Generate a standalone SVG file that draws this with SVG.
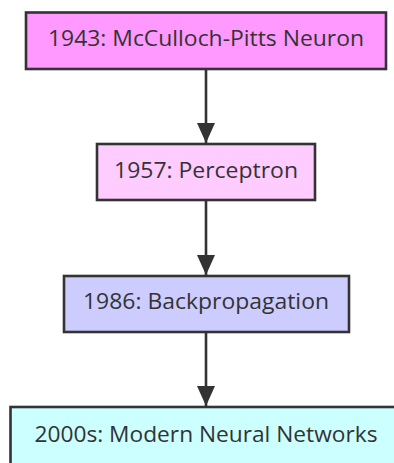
<svg xmlns="http://www.w3.org/2000/svg" width="394" height="463" viewBox="0 0 394 463">
<style>
.node rect{stroke:#333;stroke-width:2.6}
.node text{font-family:"Open Sans","Noto Sans","Liberation Sans",sans-serif;font-size:22px;fill:#333;text-anchor:middle}
.edge{stroke:#333;stroke-width:2.6;fill:none}
</style>
<defs>
<marker id="arr" viewBox="0 0 20 18" refX="20" refY="9" markerWidth="20" markerHeight="18" markerUnits="userSpaceOnUse" orient="auto">
<path d="M0,0 L20,9 L0,18 Z" fill="#333"/>
</marker>
</defs>
<rect width="394" height="463" fill="#fff"/>
<g id="connectors">
<line class="edge" x1="206" y1="69" x2="206" y2="143" marker-end="url(#arr)"/>
<line class="edge" x1="206" y1="200" x2="206" y2="275" marker-end="url(#arr)"/>
<line class="edge" x1="206" y1="332" x2="206" y2="406" marker-end="url(#arr)"/>
</g>
<g id="n1" class="node">
<rect x="26" y="12.5" width="360" height="56.5" fill="#f9f"/>
<text x="206" y="46" textLength="316" lengthAdjust="spacingAndGlyphs">1943: McCulloch-Pitts Neuron</text>
</g>
<g id="n2" class="node">
<rect x="97" y="144" width="218" height="56" fill="#fcf"/>
<text x="206" y="178" textLength="184" lengthAdjust="spacingAndGlyphs">1957: Perceptron</text>
</g>
<g id="n3" class="node">
<rect x="64" y="276" width="285" height="56" fill="#ccf"/>
<text x="206" y="309" textLength="246" lengthAdjust="spacingAndGlyphs">1986: Backpropagation</text>
</g>
<g id="n4" class="node">
<rect x="10.5" y="407" width="391" height="60" fill="#cff"/>
<text x="206" y="442" textLength="343" lengthAdjust="spacingAndGlyphs">2000s: Modern Neural Networks</text>
</g>
</svg>
